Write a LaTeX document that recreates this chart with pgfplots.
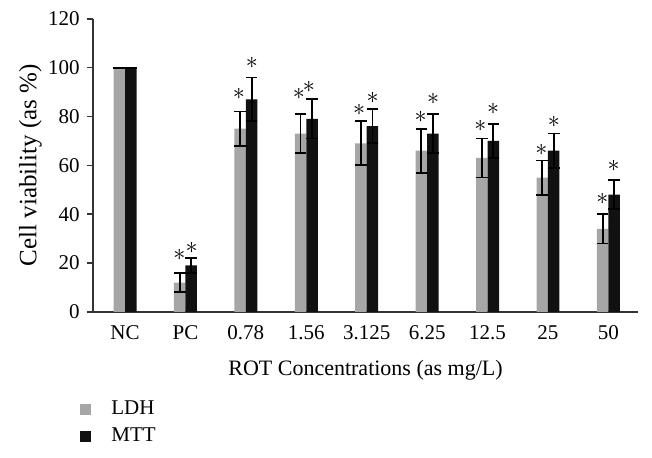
\documentclass[border=0pt]{standalone}
\usepackage{fontspec}
\setmainfont{Liberation Serif}
\usepackage{pgfplots}
\usepackage{pgfplotstable}
\pgfplotsset{compat=1.18}
\definecolor{ldhgray}{HTML}{A6A6A6}
\definecolor{mttblack}{HTML}{111111}
\pgfplotstableread{
x y e
0 100 0
1 12 4
2 75 7
3 73 8
4 69 9
5 66 9
6 63 8
7 55 7
8 34 6
}\ldh
\pgfplotstableread{
x y e
0 100 0
1 19 3
2 87 9
3 79 8
4 76 7
5 73 8
6 70 7
7 66 7
8 48 6
}\mtt
\pgfplotstableread{
x y
0.898 23.2
1.103 26.1
1.886 89.2
2.10 101.9
2.878 89.1
3.043 92.2
3.875 82.7
4.097 87.5
4.891 79.7
5.099 87.0
5.883 76.2
6.09 82.9
6.892 66.3
7.096 77.9
7.901 46.2
8.088 59.8
}\stars
\begin{document}
\fontsize{10.5}{12}\selectfont
\begin{tikzpicture}
\begin{axis}[
  scale only axis, width=272.5pt, height=146.5pt,
  xmin=-0.53, xmax=8.49, ymin=0, ymax=120,
  axis lines=left,
  axis line style={-, black!80, line width=0.8pt},
  ytick={0,20,...,120},
  xtick={0,...,8},
  xticklabels={NC,PC,0.78,1.56,3.125,6.25,12.5,25,50},
  x tick style={draw=none},
  y tick style={black!80, line width=0.8pt},
  tick align=outside, major tick length=3pt,
  /pgf/number format/assume math mode=true,
  ylabel={Cell viability (as \%)},
  ylabel style={font=\fontsize{12.5}{14}\selectfont, yshift=-4pt},
  xlabel={ROT Concentrations (as mg/L)},
  xlabel style={font=\fontsize{11}{13}\selectfont, yshift=-3pt},
  clip=false,
  legend style={at={(0,0)}, anchor=north west, xshift=-9.5pt, yshift=-40.5pt,
    draw=none, fill=none, legend cell align=left, font=\fontsize{10.5}{12}\selectfont,
    row sep=1pt},
  sq/.style={legend image code/.code={\fill[##1, draw=none] (0pt,-2.75pt) rectangle (5.5pt,2.75pt); \path[draw=none, fill=none] (0pt,0pt) -- (13.5pt,0pt);}},
]
\addplot[ybar, bar width=0.19, bar shift=0, fill=ldhgray, draw=none, sq,
  error bars/.cd, y dir=both, y explicit,
  error bar style={black, line width=0.9pt},
  error mark options={rotate=90, mark size=2.9pt, black, line width=0.9pt}]
  table[x expr=\thisrow{x}-0.095, y=y, y error=e]{\ldh};
\addlegendentry{LDH}
\addplot[ybar, bar width=0.19, bar shift=0, fill=mttblack, draw=none, sq,
  error bars/.cd, y dir=both, y explicit,
  error bar style={black, line width=0.9pt},
  error mark options={rotate=90, mark size=2.9pt, black, line width=0.9pt}]
  table[x expr=\thisrow{x}+0.095, y=y, y error=e]{\mtt};
\addlegendentry{MTT}
\addplot[only marks, mark=none, forget plot, nodes near coords={$\ast$},
  every node near coord/.append style={anchor=center, inner sep=0pt, font=\large}]
  table[x=x, y=y]{\stars};
\end{axis}
\pgfresetboundingbox
\path (-46.5pt,-72.6pt) rectangle (279.5pt,155.9pt);
\end{tikzpicture}
\end{document}
